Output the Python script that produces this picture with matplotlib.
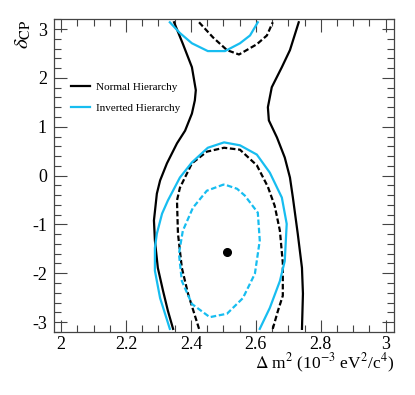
import matplotlib
matplotlib.use("Agg")
import matplotlib.pyplot as plt
from matplotlib.ticker import MultipleLocator, FormatStrFormatter
import numpy as np

plt.rcParams['font.family'] = ['Liberation Serif', 'DejaVu Serif']
plt.rcParams['mathtext.fontset'] = 'stix'
plt.rcParams['axes.unicode_minus'] = False

# NH 90% (solid black) left and right boundaries
nh90_left_x = [2.348, 2.375, 2.403, 2.415, 2.412, 2.403, 2.382, 2.357, 2.326, 2.305, 2.295, 2.286, 2.289, 2.298, 2.314, 2.329, 2.345]
nh90_left_y = [3.14, 2.70, 2.22, 1.75, 1.54, 1.27, 0.92, 0.66, 0.25, -0.10, -0.37, -0.92, -1.33, -1.89, -2.36, -2.77, -3.14]
nh90_right_x = [2.732, 2.705, 2.680, 2.649, 2.637, 2.640, 2.665, 2.689, 2.705, 2.714, 2.729, 2.742, 2.745, 2.742]
nh90_right_y = [3.14, 2.57, 2.22, 1.81, 1.40, 1.13, 0.78, 0.37, -0.04, -0.45, -1.19, -1.89, -2.42, -3.14]

# NH 68% (dashed black)
nh68_low_x = [2.425, 2.391, 2.372, 2.360, 2.357, 2.366, 2.403, 2.449, 2.502, 2.551, 2.603, 2.637, 2.658, 2.674, 2.683, 2.683, 2.668, 2.652]
nh68_low_y = [-3.14, -2.42, -1.89, -1.19, -0.51, -0.25, 0.25, 0.49, 0.57, 0.53, 0.21, -0.23, -0.62, -1.13, -1.79, -2.46, -2.77, -3.14]
nh68_top_x = [2.425, 2.468, 2.511, 2.548, 2.603, 2.634, 2.652]
nh68_top_y = [3.14, 2.83, 2.57, 2.48, 2.69, 2.87, 3.14]

# IH 90% (solid cyan)
ih90_low_x = [2.335, 2.305, 2.289, 2.289, 2.295, 2.311, 2.329, 2.366, 2.403, 2.452, 2.502, 2.551, 2.603, 2.643, 2.680, 2.695, 2.689, 2.674, 2.643, 2.612]
ih90_low_y = [-3.14, -2.51, -1.95, -1.48, -1.19, -0.78, -0.51, -0.04, 0.27, 0.57, 0.68, 0.62, 0.43, 0.06, -0.45, -0.99, -1.75, -2.16, -2.71, -3.14]
ih90_top_x = [2.335, 2.366, 2.403, 2.452, 2.505, 2.551, 2.582, 2.606]
ih90_top_y = [3.14, 2.92, 2.71, 2.55, 2.55, 2.71, 2.87, 3.14]

# IH 68% (dashed cyan, closed)
ih68_x = [2.502, 2.449, 2.406, 2.375, 2.363, 2.372, 2.403, 2.458, 2.511, 2.560, 2.597, 2.612, 2.606, 2.566, 2.542, 2.502]
ih68_y = [-0.18, -0.31, -0.66, -1.13, -1.60, -2.16, -2.63, -2.90, -2.83, -2.51, -2.01, -1.33, -0.76, -0.41, -0.27, -0.18]

best_x = [2.511]
best_y = [-1.56]

CYAN = '#17bdf0'

fig = plt.figure(figsize=(4.15, 3.95), dpi=100)
ax = fig.add_axes([0.130, 0.160, 0.819, 0.791])

lw = 1.6
ln_nh, = ax.plot(nh90_left_x, nh90_left_y, color='black', lw=lw)
ax.plot(nh90_right_x, nh90_right_y, color='black', lw=lw)
ax.plot(nh68_low_x, nh68_low_y, color='black', lw=lw, dashes=(2.5, 1.2))
ax.plot(nh68_top_x, nh68_top_y, color='black', lw=lw, dashes=(2.5, 1.2))
ln_ih, = ax.plot(ih90_low_x, ih90_low_y, color=CYAN, lw=lw)
ax.plot(ih90_top_x, ih90_top_y, color=CYAN, lw=lw)
ax.plot(ih68_x, ih68_y, color=CYAN, lw=lw, dashes=(2.5, 1.2))
ax.plot(best_x, best_y, 'o', color='black', ms=5.5)

ax.set_xlim(1.978, 3.025)
ax.set_ylim(-3.2, 3.2)

ax.xaxis.set_major_locator(MultipleLocator(0.2))
ax.xaxis.set_minor_locator(MultipleLocator(0.05))
ax.yaxis.set_major_locator(MultipleLocator(1))
ax.yaxis.set_minor_locator(MultipleLocator(0.2))
ax.xaxis.set_major_formatter(FormatStrFormatter('%g'))
ax.yaxis.set_major_formatter(FormatStrFormatter('%g'))

ax.tick_params(which='both', direction='in', top=True, right=True, labelsize=13, color='#444444', width=0.8)
ax.tick_params(which='major', length=9)
ax.tick_params(which='minor', length=5)
ax.tick_params(axis='x', which='major', pad=3)
ax.tick_params(axis='y', which='major', pad=5)
for s in ax.spines.values():
    s.set_color('#444444')
    s.set_linewidth(0.9)

ax.set_xlabel(r'$\Delta$ m$^{2}$ (10$^{-3}$ eV$^{2}$/c$^{4}$)', fontsize=12.5, loc='right', labelpad=-1)
ax.set_ylabel(r'$\delta_{\rm CP}$', fontsize=15, loc='top', labelpad=-1)

ax.legend([ln_nh, ln_ih], ['Normal Hierarchy', 'Inverted Hierarchy'], loc='upper left',
          bbox_to_anchor=(0.022, 0.83), frameon=False, fontsize=8, handlelength=1.7,
          labelspacing=1.0, handletextpad=0.55)

fig.savefig('out.png', dpi=100)
